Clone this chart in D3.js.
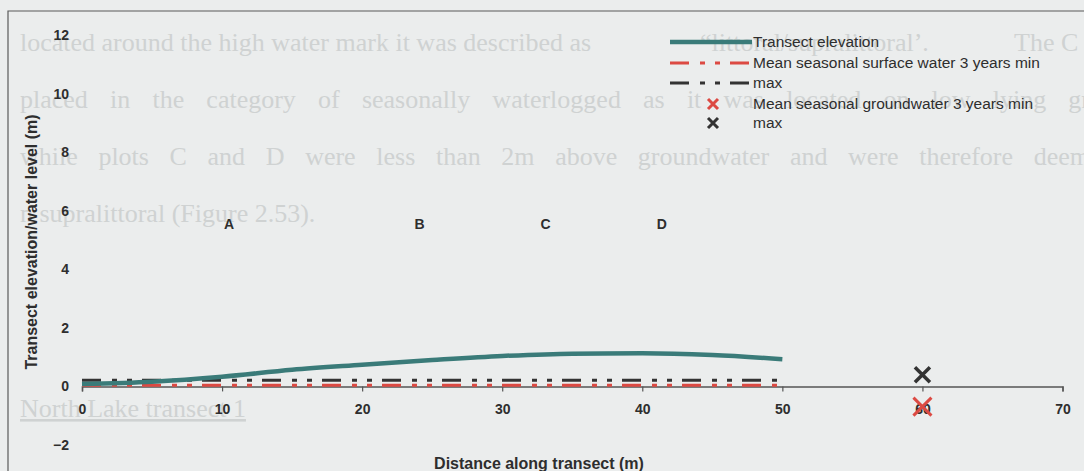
<!DOCTYPE html>
<html>
<head>
<meta charset="utf-8">
<script src="https://cdn.jsdelivr.net/npm/d3@7"></script>
<style>
  html, body { margin: 0; padding: 0; background: #ebeded; }
  svg { display: block; }
</style>
</head>
<body>
<svg id="chart" width="1084" height="471"></svg>
<script>
// Transect profile: distance (m) and ground elevation (m)
const distance = [0, 5, 10, 15, 20, 25, 30, 35, 40, 45, 50];
const elevation = [0.08, 0.16, 0.33, 0.57, 0.74, 0.90, 1.04, 1.12, 1.13, 1.07, 0.93];

// Mean seasonal surface water over 3 years (m)
const surfaceMin = [0.04, 0.04, 0.04, 0.04, 0.04, 0.04, 0.04, 0.04, 0.04, 0.04, 0.04];
const surfaceMax = [0.21, 0.21, 0.21, 0.21, 0.21, 0.21, 0.21, 0.21, 0.21, 0.21, 0.21];

// Mean seasonal groundwater over 3 years (m), measured at one well
const groundDistance = [60];
const groundMin = [-0.69];
const groundMax = [0.40];

// Plot labels along the transect
const plotNames = ["A", "B", "C", "D"];
const plotDistance = [10.5, 24.1, 33.1, 41.4];
const plotLevel = [5.55, 5.55, 5.55, 5.55];

// Axis ticks
const xTicks = [0, 10, 20, 30, 40, 50, 60, 70];
const yTicks = [-2, 0, 2, 4, 6, 8, 10, 12];

// Legend entries
const legendLabels = [
  "Transect elevation",
  "Mean seasonal surface water 3 years min",
  "max",
  "Mean seasonal groundwater 3 years  min",
  "max"
];

// Page text printed behind the figure: each line is a list of runs
const pageLines = [
  ["located around the high water mark it was described as", "\u201clittoral/supralittoral\u2019.", "The C"],
  ["placed in the category of seasonally waterlogged as it was located on low lying gr"],
  ["while plots C and D were less than 2m above groundwater and were therefore deem"],
  ["n supralittoral (Figure 2.53)."]
];
const pageHeading = "North Lake transect 1";

const svg = d3.select("#chart");
const sans = "'Liberation Sans', Arial, sans-serif";
const serif = "'Liberation Serif', 'Times New Roman', serif";
const ink = "#2e2e2e";
const teal = "#3a7b79";
const red = "#dc4a43";
const dark = "#333333";
const dash = "19,11,5,10,5,10";

// --- page text behind the chart (justified runs) ---
const page = svg.append("g").attr("fill", "#cfd2d2").attr("font-family", serif).attr("font-size", 26);
const pageBase = [51, 108, 165, 222];
// start and end x of each run (null end = natural width)
const runSpan = [
  [[20, null], [700, null], [1014, null]],
  [[20, 1090]],
  [[20, 1090]],
  [[20, null]]
];
pageLines.forEach((runs, i) => {
  const t = page.append("text").attr("y", pageBase[i]);
  runs.forEach((r, j) => {
    const [x0, x1] = runSpan[i][j];
    const ts = t.append("tspan").attr("x", x0).text(r);
    if (x1 !== null) {
      const natural = ts.node().getComputedTextLength();
      const gaps = (r.match(/ /g) || []).length;
      const extra = (x1 - x0 - natural) / gaps;
      if (extra > 0) ts.attr("word-spacing", extra.toFixed(2));
    }
  });
});
page.append("text").attr("x", 20).attr("y", 417).attr("text-decoration", "underline").text(pageHeading);

// --- chart frame ---
svg.append("path")
  .attr("d", "M8,471V11H1084")
  .attr("fill", "none")
  .attr("stroke", "#5a5a5a")
  .attr("stroke-width", 1.2);

// --- scales ---
const x = d3.scaleLinear().domain([0, 70]).range([82, 1062.5]);
const y = d3.scaleLinear().domain([-2, 12]).range([445, 35]);

// --- y axis labels (no axis line) ---
const yAxis = svg.append("g")
  .attr("transform", "translate(69,0)")
  .call(d3.axisLeft(y).tickValues(yTicks).tickSize(0).tickPadding(0).tickFormat(d3.format("d")));
yAxis.select(".domain").remove();
yAxis.selectAll("text")
  .attr("font-family", sans).attr("font-size", 14).attr("font-weight", "bold").attr("fill", ink);

// --- x axis crossing at zero ---
const xAxis = svg.append("g")
  .attr("transform", `translate(0,${y(0)})`)
  .call(d3.axisBottom(x).tickValues(xTicks).tickSize(5).tickSizeOuter(5).tickPadding(13).tickFormat(d3.format("d")));
xAxis.select(".domain").attr("stroke", "#555").attr("stroke-width", 1.5);
xAxis.selectAll(".tick line").attr("stroke", "#555").attr("stroke-width", 1.2);
xAxis.selectAll("text")
  .attr("font-family", sans).attr("font-size", 14).attr("font-weight", "bold").attr("fill", ink);

// --- axis titles ---
svg.append("text")
  .attr("transform", `translate(37,${242}) rotate(-90)`)
  .attr("text-anchor", "middle")
  .attr("font-family", sans).attr("font-size", 16).attr("font-weight", "bold").attr("fill", ink)
  .text("Transect elevation/water level (m)");
svg.append("text")
  .attr("x", 539).attr("y", 469)
  .attr("text-anchor", "middle")
  .attr("font-family", sans).attr("font-size", 16).attr("font-weight", "bold").attr("fill", ink)
  .text("Distance along transect (m)");

// --- plot labels A-D ---
svg.append("g").selectAll("text")
  .data(plotNames)
  .join("text")
  .attr("x", (d, i) => x(plotDistance[i]))
  .attr("y", (d, i) => y(plotLevel[i]))
  .attr("dy", "0.35em")
  .attr("text-anchor", "middle")
  .attr("font-family", sans).attr("font-size", 14).attr("font-weight", "bold").attr("fill", ink)
  .text(d => d);

// --- series ---
const lineOf = vals => d3.line()
  .x((d, i) => x(distance[i]))
  .y(d => y(d))(vals);

svg.append("path")
  .attr("d", lineOf(surfaceMin))
  .attr("fill", "none").attr("stroke", red).attr("stroke-width", 3)
  .attr("stroke-dasharray", dash);
svg.append("path")
  .attr("d", lineOf(surfaceMax))
  .attr("fill", "none").attr("stroke", dark).attr("stroke-width", 3)
  .attr("stroke-dasharray", dash);

svg.append("path")
  .attr("d", d3.line().x((d, i) => x(distance[i])).y(d => y(d)).curve(d3.curveMonotoneX)(elevation))
  .attr("fill", "none").attr("stroke", teal).attr("stroke-width", 4.5)
  .attr("stroke-linejoin", "round");

// X-shaped markers
const cross = s => `M${-s},${-s}L${s},${s}M${s},${-s}L${-s},${s}`;

svg.append("g").selectAll("path")
  .data(groundMin)
  .join("path")
  .attr("transform", (d, i) => `translate(${x(groundDistance[i])},${y(d)})`)
  .attr("d", cross(9))
  .attr("fill", "none").attr("stroke", red).attr("stroke-width", 3);

svg.append("g").selectAll("path")
  .data(groundMax)
  .join("path")
  .attr("transform", (d, i) => `translate(${x(groundDistance[i])},${y(d)})`)
  .attr("d", cross(7.5))
  .attr("fill", "none").attr("stroke", dark).attr("stroke-width", 3.5);

// --- legend ---
const legend = svg.append("g");
const rowY = [42, 63, 83, 104, 123];
legend.append("line").attr("x1", 670).attr("x2", 752).attr("y1", rowY[0]).attr("y2", rowY[0])
  .attr("stroke", teal).attr("stroke-width", 4.5);
legend.append("line").attr("x1", 670).attr("x2", 752).attr("y1", rowY[1]).attr("y2", rowY[1])
  .attr("stroke", red).attr("stroke-width", 3).attr("stroke-dasharray", dash);
legend.append("line").attr("x1", 670).attr("x2", 752).attr("y1", rowY[2]).attr("y2", rowY[2])
  .attr("stroke", dark).attr("stroke-width", 3).attr("stroke-dasharray", dash);
legend.append("path").attr("transform", `translate(713,${rowY[3]})`).attr("d", cross(5))
  .attr("fill", "none").attr("stroke", red).attr("stroke-width", 3);
legend.append("path").attr("transform", `translate(713,${rowY[4]})`).attr("d", cross(5))
  .attr("fill", "none").attr("stroke", dark).attr("stroke-width", 3);
legend.selectAll("text.lbl")
  .data(legendLabels)
  .join("text")
  .attr("class", "lbl")
  .attr("x", 753)
  .attr("y", (d, i) => rowY[i])
  .attr("dy", "0.35em")
  .attr("font-family", sans).attr("font-size", 15.5).attr("fill", ink)
  .text(d => d);
</script>
</body>
</html>
